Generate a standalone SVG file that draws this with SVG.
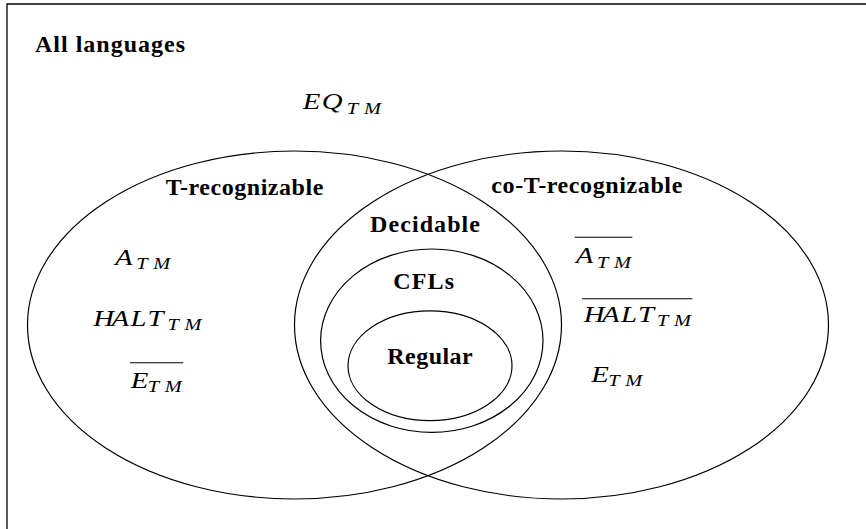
<svg xmlns="http://www.w3.org/2000/svg" width="866" height="529" viewBox="0 0 866 529">
<style>
.bg{fill:#ffffff}
.frame{fill:none;stroke:#000;stroke-width:1.3}
.set{fill:none;stroke:#000;stroke-width:1.2}
.lbl{font-family:"Liberation Serif","Times New Roman",serif;font-weight:bold;font-size:24px;fill:#000}
.m{font-family:"Liberation Serif","Times New Roman",serif;font-style:italic;font-size:24px;fill:#000}
.s{font-family:"Liberation Serif","Times New Roman",serif;font-style:italic;font-size:17px;fill:#000}
.bar{stroke:#000;stroke-width:1.1}
</style>
<rect class="bg" x="0" y="0" width="866" height="529"/>
<g id="all-languages">
  <path class="frame" d="M7,529 V4 H866"/>
  <text class="lbl" x="35" y="51.5" textLength="150" lengthAdjust="spacing">All languages</text>
  <text class="m" transform="translate(302.7,0) scale(1.2,1)" x="0 15.83" y="109">EQ</text>
  <text class="s" transform="translate(346.7,0) scale(1.2,1)" x="0 14.4" y="114">TM</text>
</g>
<g id="t-recognizable">
  <ellipse class="set" cx="294.5" cy="325" rx="267" ry="174"/>
  <text class="lbl" x="165.7" y="195" textLength="157.6" lengthAdjust="spacing">T-recognizable</text>
  <text class="m" transform="translate(115,0) scale(1.2,1)" x="0" y="265">A</text>
  <text class="s" transform="translate(136.2,0) scale(1.2,1)" x="0 14.2" y="269.5">TM</text>
  <text class="m" transform="translate(93.3,0) scale(1.2,1)" x="0 15.17 31 45.17" y="326">HALT</text>
  <text class="s" transform="translate(167.5,0) scale(1.2,1)" x="0 14.2" y="330.5">TM</text>
  <line class="bar" x1="130" y1="362.7" x2="183.3" y2="362.7"/>
  <text class="m" transform="translate(130.7,0) scale(1.2,1)" x="0" y="388.3">E</text>
  <text class="s" transform="translate(147.7,0) scale(1.2,1)" x="0 14.2" y="392">TM</text>
</g>
<g id="co-t-recognizable">
  <ellipse class="set" cx="561.5" cy="325" rx="267" ry="174"/>
  <text class="lbl" x="491.3" y="192.5" textLength="191" lengthAdjust="spacing">co-T-recognizable</text>
  <line class="bar" x1="574.7" y1="237.3" x2="632.3" y2="237.3"/>
  <text class="m" transform="translate(575.7,0) scale(1.2,1)" x="0" y="263.5">A</text>
  <text class="s" transform="translate(597,0) scale(1.2,1)" x="0 14.2" y="268">TM</text>
  <line class="bar" x1="582" y1="298.7" x2="692.3" y2="298.7"/>
  <text class="m" transform="translate(583.7,0) scale(1.2,1)" x="0 15.17 31 45.17" y="322">HALT</text>
  <text class="s" transform="translate(657,0) scale(1.2,1)" x="0 14.2" y="326.2">TM</text>
  <text class="m" transform="translate(591.3,0) scale(1.2,1)" x="0" y="382.5">E</text>
  <text class="s" transform="translate(608.3,0) scale(1.2,1)" x="0 14.2" y="386.2">TM</text>
</g>
<g id="decidable">
  <text class="lbl" x="370" y="231.7" textLength="110" lengthAdjust="spacing">Decidable</text>
</g>
<g id="cfls">
  <ellipse class="set" cx="431.8" cy="340.7" rx="111.2" ry="91.7"/>
  <text class="lbl" x="393.3" y="289" textLength="60.7" lengthAdjust="spacing">CFLs</text>
</g>
<g id="regular">
  <ellipse class="set" cx="430" cy="365.8" rx="82" ry="54.9"/>
  <text class="lbl" x="387.3" y="364.3" textLength="85.4" lengthAdjust="spacing">Regular</text>
</g>
<g id="connectors"></g>
</svg>
